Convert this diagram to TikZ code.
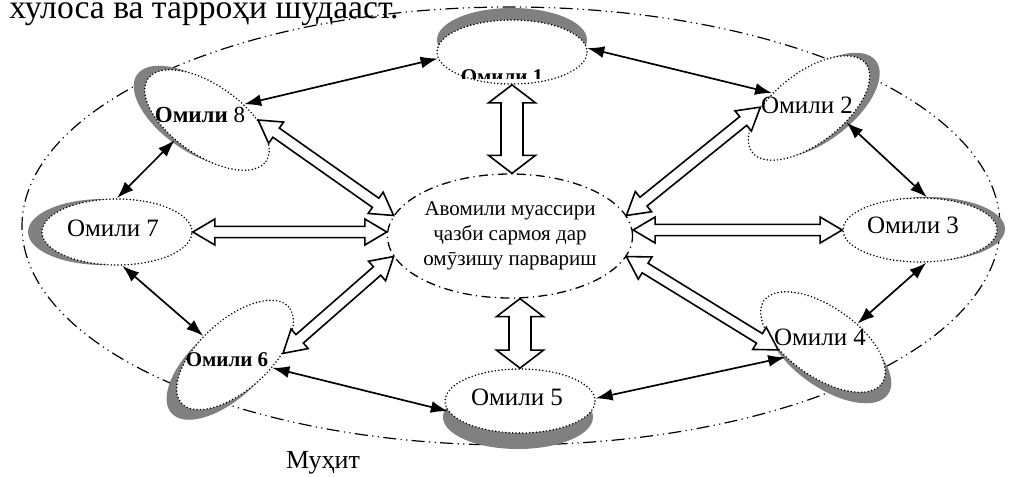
\documentclass[tikz,border=0pt]{standalone}
\usepackage{fontspec}
\setmainfont{Liberation Serif}
\usetikzlibrary{shapes, arrows.meta, calc}

\tikzset{
  env/.style={ellipse, draw, line width=.6pt, dash pattern=on 6.5pt off 2.2pt on .6pt off 2.2pt on .6pt off 2.2pt,
    minimum width=489pt, minimum height=219pt, inner sep=0pt},
  core/.style={ellipse, draw, fill=white, line width=.65pt, dash pattern=on 4.5pt off 2.2pt on .6pt off 2.2pt,
    minimum width=117pt, minimum height=62pt, inner sep=0pt, align=center, font=\fontsize{10.5}{12.5}\selectfont},
  factor/.style={ellipse, draw, fill=white, line width=.85pt, line cap=round, dash pattern=on 0pt off 1.7pt,
    inner sep=0pt, minimum width=75pt, minimum height=32pt},
  ghost/.style={ellipse, fill=gray, inner sep=0pt, minimum width=75pt, minimum height=32pt},
  tilt/.style={minimum width=72pt, minimum height=35pt},
  ftext/.style={inner sep=0pt, font=\fontsize{12.5}{14}\selectfont},
  btext/.style={inner sep=0pt, font=\fontsize{10.5}{12}\selectfont\bfseries},
  link/.style={<->, >={Latex[length=8.5pt,width=6pt]}, line width=.85pt},
  block/.style n args={3}{draw, fill=white, line width=.8pt, line join=miter,
    to path={-- ($(\tikztostart)!#1!(\tikztotarget)!#2!90:(\tikztotarget)$)
      -- ($(\tikztostart)!#1!(\tikztotarget)!#3!90:(\tikztotarget)$)
      -- ($(\tikztotarget)!#1!(\tikztostart)!#3!-90:(\tikztostart)$)
      -- ($(\tikztotarget)!#1!(\tikztostart)!#2!-90:(\tikztostart)$)
      -- (\tikztotarget)
      -- ($(\tikztotarget)!#1!(\tikztostart)!#2!90:(\tikztostart)$)
      -- ($(\tikztotarget)!#1!(\tikztostart)!#3!90:(\tikztostart)$)
      -- ($(\tikztostart)!#1!(\tikztotarget)!#3!-90:(\tikztotarget)$)
      -- ($(\tikztostart)!#1!(\tikztotarget)!#2!-90:(\tikztotarget)$)
      -- cycle}},
}

\begin{document}
\begin{tikzpicture}[x=.5pt, y=-.5pt]
  \useasboundingbox (0,0) rectangle (1009,477);
  % text of the page above
  \node[anchor=base west, inner sep=0pt, font=\fontsize{16.8}{19}\selectfont] (head) at (9,18) {хулоса ва тарроҳи шудааст.};

  % environment
  \node[env] (env) at (511,226) {};
  \node[ftext, font=\fontsize{13}{15}\selectfont] (envname) at (323,463) {Муҳит};

  % shadows
  \node[ghost] (s1) at (512,40) {};
  \node[ghost, tilt, rotate=38] (s2) at (819,105) {};
  \node[ghost, minimum width=77pt] (s3) at (928,229) {};
  \node[ghost, tilt, rotate=-35] (s4) at (829,353) {};
  \node[ghost] (s5) at (518,417) {};
  \node[ghost, tilt, rotate=42] (s6) at (225,365) {};
  \node[ghost, minimum height=33pt] (s7) at (103,232) {};
  \node[ghost, tilt, rotate=-35] (s8) at (196,116) {};

  % factors
  \node[factor] (f1) at (512,52) {};
  \node[factor, tilt, rotate=38] (f2) at (809,108) {};
  \node[factor, minimum width=77pt] (f3) at (920,230) {};
  \node[factor, tilt, rotate=-35] (f4) at (823,342) {};
  \node[factor] (f5) at (520,401) {};
  \node[factor, tilt, rotate=42] (f6) at (235,355) {};
  \node[factor, minimum height=33pt] (f7) at (117,232) {};
  \node[factor, tilt, rotate=-35] (f8) at (207,120) {};

  % centre
  \node[core] (c) at (510,236) {Авомили муассири\\ҷазби сармоя дар\\омӯзишу парвариш};

  % labels
  \begin{scope}
    \clip (440,62) rectangle (585,78);
    \node[btext, anchor=base] (t1) at (502,83) {Омили 1};
  \end{scope}
  \node[ftext] (t2) at (807,105) {Омили 2};
  \node[ftext] (t3) at (913,225) {Омили 3};
  \node[ftext] (t4) at (820,337) {Омили 4};
  \node[ftext] (t5) at (517,397) {Омили 5};
  \node[btext] (t6) at (227,360) {Омили 6};
  \node[ftext] (t7) at (113,228) {Омили 7};
  \node[ftext, font=\fontsize{11.5}{13}\selectfont] (t8) at (200,115) {\textbf{Омили} 8};

  % links between factors
  \draw[link] (f8.58) -- (f1.185);
  \draw[link] (f1.3) -- (f2.120);
  \draw[link] (f2.301) -- (f3.78);
  \draw[link] (f3.281) -- (f4.63);
  \draw[link] (f4.237) -- (f5.2);
  \draw[link] (f5.188) -- (f6.299);
  \draw[link] (f6.107) -- (f7.279);
  \draw[link] (f7.90) -- (f8.247);

  % block arrows to the centre
  \draw[block={9pt}{11.75pt}{5.5pt}] (f1.south) to (f1.south |- c.north);
  \draw[block={9pt}{11.75pt}{5.5pt}] (f5.north |- c.south) to (f5.north);
  \draw[block={11pt}{6.5pt}{2.8pt}] (f7.east) to (c.west |- f7.east);
  \draw[block={11pt}{6.5pt}{2.8pt}] (c.east |- f3.west) to (f3.west);
  \draw[block={11pt}{6.5pt}{2.8pt}] (f8.35) to (c.170);
  \draw[block={11pt}{6.5pt}{2.8pt}] (c.10) to (f2.141);
  \draw[block={11pt}{6.5pt}{2.8pt}] (f6.320) to (c.190);
  \draw[block={11pt}{6.5pt}{2.8pt}] (c.350) to (f4.225);
\end{tikzpicture}
\end{document}
